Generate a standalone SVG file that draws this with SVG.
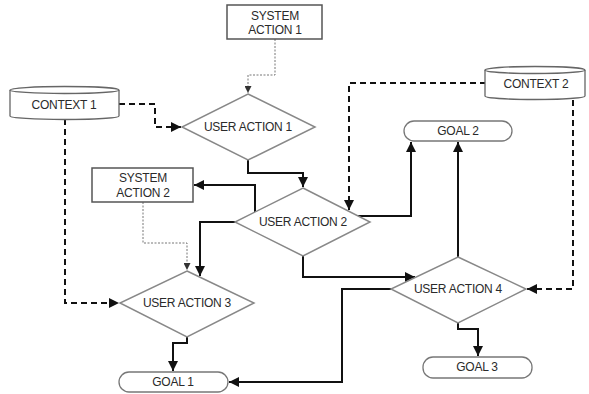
<svg xmlns="http://www.w3.org/2000/svg" width="589" height="394" viewBox="0 0 589 394">
<defs>
<style>
.box{fill:#fff;stroke:#555;stroke-width:1.5}
.dia{fill:#fff;stroke:#888;stroke-width:1.5}
.cyl{fill:#fff;stroke:#666;stroke-width:1.3}
.goal{fill:#fff;stroke:#777;stroke-width:1.3}
.t{font-family:"Liberation Sans",Arial,sans-serif;font-size:12px;fill:#2a2a2a;text-anchor:middle;letter-spacing:-0.25px}
.solid{fill:none;stroke:#111;stroke-width:2}
.dash{fill:none;stroke:#111;stroke-width:2;stroke-dasharray:6 4}
.dot{fill:none;stroke:#777;stroke-width:1;stroke-dasharray:2 1.5}
</style>
<marker id="ah" viewBox="0 0 10 10" refX="10" refY="5" markerWidth="5" markerHeight="5" orient="auto" markerUnits="strokeWidth"><path d="M0,0 L10,5 L0,10 z" fill="#111"/></marker>
<marker id="ahs" viewBox="0 0 10 10" refX="10" refY="5" markerWidth="7" markerHeight="7" orient="auto" markerUnits="strokeWidth"><path d="M0,0 L10,5 L0,10 z" fill="#333"/></marker>
</defs>
<rect width="589" height="394" fill="#fff"/>
<g id="connectors">
<path class="dot" d="M275,39 V75 H248 V93" marker-end="url(#ahs)"/>
<path class="dot" d="M143,202 V243 H187 V270" marker-end="url(#ahs)"/>
<path class="dash" d="M119,104 H155 V127 H181" marker-end="url(#ah)"/>
<path class="dash" d="M65,119 V303 H119" marker-end="url(#ah)"/>
<path class="dash" d="M486,83 H349 V210" marker-end="url(#ah)"/>
<path class="dash" d="M573,100 V289 H527" marker-end="url(#ah)"/>
<path class="solid" d="M248,160 V173 H303 V187" marker-end="url(#ah)"/>
<path class="solid" d="M255,212 V185 H194" marker-end="url(#ah)"/>
<path class="solid" d="M235,222 H200 V276" marker-end="url(#ah)"/>
<path class="solid" d="M358,216 H411 V142" marker-end="url(#ah)"/>
<path class="solid" d="M303,256 V277 H415" marker-end="url(#ah)"/>
<path class="solid" d="M458,257 V142" marker-end="url(#ah)"/>
<path class="solid" d="M391,289 H342 V382 H229" marker-end="url(#ah)"/>
<path class="solid" d="M187,337 V343 H173 V371" marker-end="url(#ah)"/>
<path class="solid" d="M458,323 V329 H478 V356" marker-end="url(#ah)"/>
</g>
<g id="system-action-1">
<rect class="box" x="227" y="5" width="95" height="34"/>
<text class="t" x="275" y="20">SYSTEM</text>
<text class="t" x="275" y="34">ACTION 1</text>
</g>
<g id="system-action-2">
<rect class="box" x="92" y="168" width="101" height="34"/>
<text class="t" x="143" y="182">SYSTEM</text>
<text class="t" x="143" y="197">ACTION 2</text>
</g>
<g id="context-1">
<path class="cyl" d="M10,90 A54.5,3.5 0 0 1 119,90 V116 A54.5,3.5 0 0 1 10,116 Z"/>
<path class="cyl" d="M10,90 A54.5,3.5 0 0 0 119,90"/>
<text class="t" x="64" y="109">CONTEXT 1</text>
</g>
<g id="context-2">
<path class="cyl" d="M485,70 A50,3.5 0 0 1 585,70 V96 A50,3.5 0 0 1 485,96 Z"/>
<path class="cyl" d="M485,70 A50,3.5 0 0 0 585,70"/>
<text class="t" x="536" y="88">CONTEXT 2</text>
</g>
<g id="user-action-1">
<polygon class="dia" points="248,94 315,127 248,160 182,127"/>
<text class="t" x="248" y="131">USER ACTION 1</text>
</g>
<g id="user-action-2">
<polygon class="dia" points="303,188 370,222 303,256 235,222"/>
<text class="t" x="303" y="226">USER ACTION 2</text>
</g>
<g id="user-action-3">
<polygon class="dia" points="187,271 254,303 187,337 120,303"/>
<text class="t" x="187" y="307">USER ACTION 3</text>
</g>
<g id="user-action-4">
<polygon class="dia" points="458,257 526,289 458,323 391,289"/>
<text class="t" x="458" y="293">USER ACTION 4</text>
</g>
<g id="goal-1">
<rect class="goal" x="119" y="372" width="109" height="20" rx="10"/>
<text class="t" x="173" y="386">GOAL 1</text>
</g>
<g id="goal-2">
<rect class="goal" x="404" y="121" width="108" height="20" rx="10"/>
<text class="t" x="458" y="135">GOAL 2</text>
</g>
<g id="goal-3">
<rect class="goal" x="423" y="357" width="109" height="21" rx="10"/>
<text class="t" x="477" y="371">GOAL 3</text>
</g>
</svg>
